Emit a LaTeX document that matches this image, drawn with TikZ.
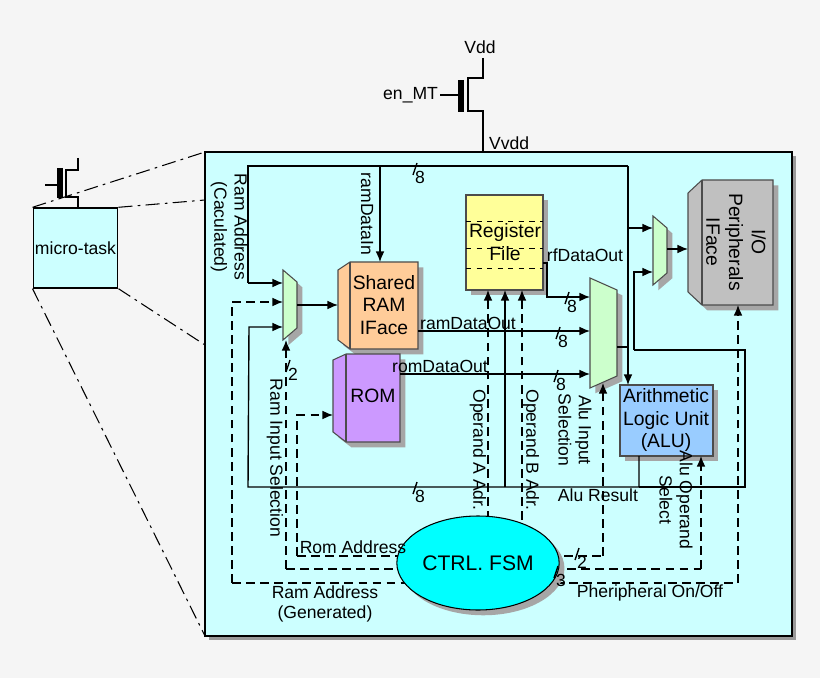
\documentclass[tikz,border=0pt]{standalone}
\usepackage{fontspec}
\setmainfont{Liberation Sans}
\usetikzlibrary{arrows.meta,shadows,shapes.geometric}
\definecolor{pagebg}{HTML}{F5F5F5}
\definecolor{chipbg}{HTML}{CCFFFF}
\definecolor{muxfill}{HTML}{CCFFCC}
\definecolor{ramfill}{HTML}{FFCC99}
\definecolor{romfill}{HTML}{CC99FF}
\definecolor{rffill}{HTML}{FFFF99}
\definecolor{alufill}{HTML}{99CCFF}
\definecolor{iofill}{HTML}{C0C0C0}
\definecolor{fsmfill}{HTML}{00FFFF}
\tikzset{
  wire/.style={line width=0.8pt},
  sig/.style={wire,-{Latex[length=6pt,width=5pt]}},
  ctl/.style={sig,dash pattern=on 5pt off 3pt},
  dctl/.style={wire,dash pattern=on 5pt off 3pt},
  blk/.style={draw=black!70,line width=0.6pt,drop shadow={shadow xshift=3pt,shadow yshift=-3pt,fill=black!35,opacity=1}},
  lbl/.style={font=\fontsize{10}{11.5}\selectfont,inner sep=1pt,align=center},
}
% bus width mark
\newcommand{\bw}[3]{\draw[wire] (#1-2,#2+6) -- (#1+2,#2-6);
  \node[lbl,inner sep=0pt] at (#1+5,#2+8) {#3};}
% multiplexer: left x, top, bottom, right x, inset
\newcommand{\mux}[6]{\draw[blk,fill=muxfill] (#2,#3) -- (#5,#3+#6) -- (#5,#4-#6) -- (#2,#4) -- cycle;
  \coordinate (#1) at ({(#2+#5)/2},{(#3+#4)/2});}
\begin{document}
\begin{tikzpicture}[x=0.02cm,y=-0.02cm]
\useasboundingbox (0,0) rectangle (820,678);
\fill[pagebg] (0,0) rectangle (820,678);

% main chip
\draw[fill=chipbg,line width=1pt,drop shadow={shadow xshift=2pt,shadow yshift=-2pt,fill=black!40,opacity=1}] (205,152) rectangle (792,636);
\node[draw,line width=0.8pt,fill=chipbg,minimum width=83*0.02cm,minimum height=80*0.02cm,lbl] (task) at (75.5,248) {micro-task};

% zoom lines
\draw[wire,line width=0.6pt,dash pattern=on 8pt off 3pt on 1.5pt off 3pt] (task.north west) -- (205,152);
\draw[wire,line width=0.6pt,dash pattern=on 8pt off 3pt on 1.5pt off 3pt] (task.north east) -- (205,200);
\draw[wire,line width=0.6pt,dash pattern=on 8pt off 3pt on 1.5pt off 3pt] (task.south east) -- (205,345);
\draw[wire,line width=0.6pt,dash pattern=on 8pt off 3pt on 1.5pt off 3pt] (task.south west) -- (205,636);

% small switch
\draw[wire] (78,158) -- (78,170) -- (66,170) -- (66,197) -- (78,197) -- (task.north -| 78,0);
\draw[line width=3pt] (60,168) -- (60,198);
\draw[wire] (45,185) -- (60,185);

% power switch
\node[lbl] (vdd) at (480,47) {Vdd};
\node[lbl,anchor=east] (enmt) at (440,95) {en\_MT};
\node[lbl,anchor=west] (vvdd) at (487,143) {Vvdd};
\draw[wire] (483,58) -- (483,78) -- (468,78) -- (468,111) -- (483,111) -- (483,152);
\draw[line width=3pt] (461,80) -- (461,112);
\draw[wire] (enmt.east) -- (461,95);

% blocks
\draw[blk,fill=ramfill] (338,270) -- (350,262) -- (418,262) -- (418,349) -- (350,349) -- (338,340) -- cycle;
\draw[line width=0.6pt,draw=black!70] (350,262) -- (350,349);
\node[lbl,font=\fontsize{11}{13}\selectfont] (ram) at (384,305) {Shared\\RAM\\IFace};
\draw[blk,fill=romfill] (333,360) -- (346,354) -- (400,354) -- (400,442) -- (346,442) -- (333,432) -- cycle;
\draw[line width=0.6pt,draw=black!70] (346,354) -- (346,442);
\node[lbl,font=\fontsize{11}{13}\selectfont] (rom) at (373,396) {ROM};
\draw[blk,fill=rffill] (466,195) rectangle (543,290);
\foreach \y in {221,248,268}
  \draw[line width=0.5pt,dashed] (466,\y) -- (543,\y);
\node[lbl,font=\fontsize{11}{13}\selectfont] (rf) at (505,242) {Register\\File};
\draw[blk,fill=alufill] (620,385) rectangle (713,456);
\node[lbl,font=\fontsize{11}{13}\selectfont] (alu) at (666,420) {Arithmetic\\Logic Unit\\(ALU)};
\draw[blk,fill=iofill] (688,193) -- (702,180) -- (773,180) -- (773,305) -- (702,305) -- (688,292) -- cycle;
\draw[line width=0.6pt,draw=black!70] (702,180) -- (702,305);
\node[lbl,rotate=-90,font=\fontsize{11}{13}\selectfont] (io) at (736,242) {I/O\\Peripherals\\IFace};

% multiplexers
\mux{mram}{283}{270}{340}{297}{12}
\mux{malu}{590}{278}{388}{617}{12}
\mux{mio}{653}{216}{285}{667}{12}

% data buses
\draw[wire] (248,283) -- (248,166) -- (628,166);
\draw[sig] (628,166) -- (628,385);
\draw[sig] (248,283) -- (283,283);
\draw[sig] (380,166) -- (380,262);
\bw{415}{169}{8}
\draw[sig] (297,305) -- (338,305);
\draw[sig] (543,263) -- (547,263) -- (547,297) -- (590,297);
\bw{567}{298}{8}
\draw[sig] (418,331) -- (590,331);
\bw{558}{333}{8}
\draw[sig] (400,374) -- (590,374);
\bw{556}{376}{8}
\draw[wire] (617,347) -- (628,347);
\draw[sig] (628,228) -- (653,228);
\draw[sig] (667,249) -- (688,249);
\draw[sig] (639,456) -- (639,487) -- (248,487) -- (249,327) -- (283,327);
\draw[wire] (639,487) -- (745,487) -- (745,350) -- (634,350);
\draw[sig] (634,350) -- (634,272) -- (653,272);
\draw[sig] (505,487) -- (505,290);
\bw{415}{488}{8}

% control lines
\draw[dctl] (232,583) -- (738,583);
\draw[ctl] (232,583) -- (232,302) -- (283,302);
\draw[dctl] (286,569) -- (701,569);
\draw[ctl] (286,569) -- (286,340);
\bw{288}{366}{2}
\draw[dctl] (297,556) -- (603,556);
\draw[ctl] (297,556) -- (297,415) -- (333,415);
\draw[ctl] (603,556) -- (603,383);
\draw[ctl] (701,569) -- (701,456);
\draw[ctl] (738,583) -- (738,305);
\draw[ctl] (488,520) -- (488,290);
\draw[ctl] (522,520) -- (522,290);

\node[draw,line width=0.6pt,fill=fsmfill,ellipse,inner sep=0pt,minimum width=138*0.02cm,minimum height=94*0.02cm,lbl,font=\fontsize{12}{14}\selectfont,drop shadow={shadow xshift=3pt,shadow yshift=-3pt,fill=black!35,opacity=1}] (fsm) at (478,563) {CTRL. FSM};
\bw{577}{554}{2}
\bw{556}{572}{3}

% labels
\node[lbl,rotate=-90] at (229,227) {Ram Address\\(Caculated)};
\node[lbl,rotate=-90] at (367,214) {ramDataIn};
\node[lbl] at (468,323) {ramDataOut};
\node[lbl] at (440,366) {romDataOut};
\node[lbl] at (585,255) {rfDataOut};
\node[lbl,rotate=-90] at (275,458) {Ram Input Selection};
\node[lbl,rotate=-90] at (478,450) {Operand A Adr.};
\node[lbl,rotate=-90] at (531,450) {Operand B Adr.};
\node[lbl,rotate=-90] at (575,430) {Alu Input\\Selection};
\node[lbl,rotate=-90] at (676,500) {Alu Operand\\Select};
\node[lbl] at (598,495) {Alu Result};
\node[lbl] at (353,547) {Rom Address};
\node[lbl] at (325,604) {Ram Address\\(Generated)};
\node[lbl] at (650,593) {Pheripheral On/Off};
\end{tikzpicture}
\end{document}
